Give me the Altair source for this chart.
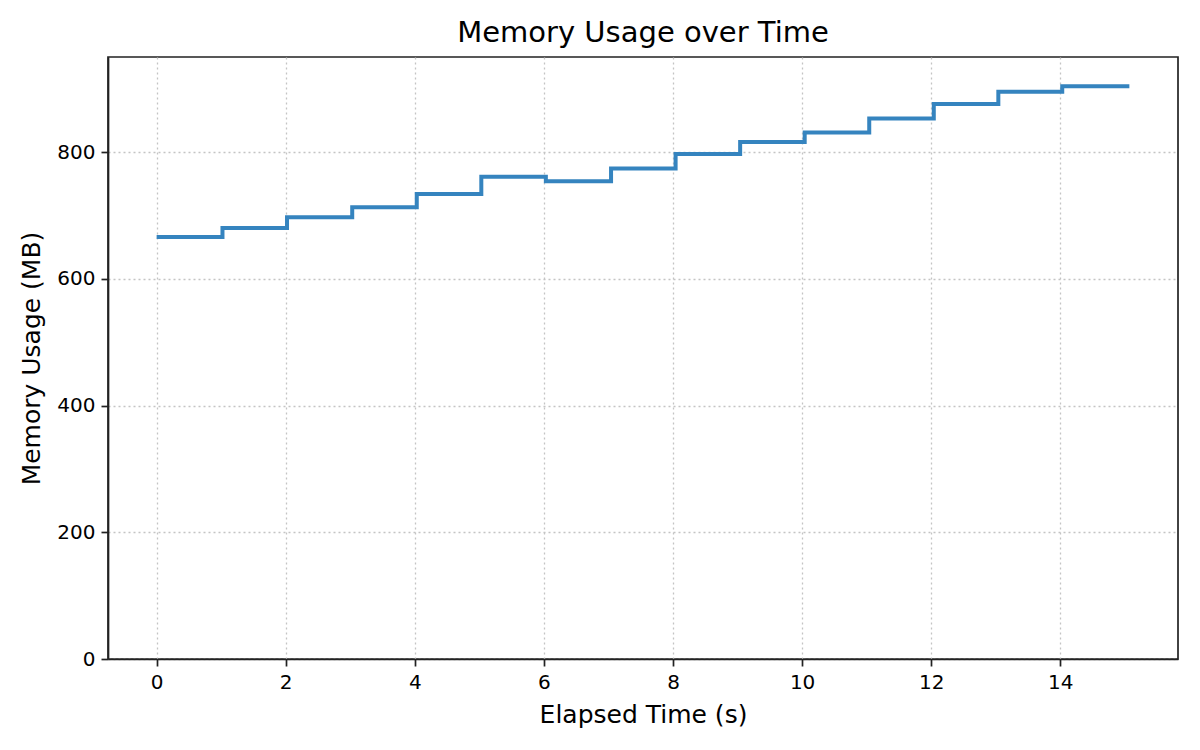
import altair as alt
import pandas as pd

elapsed_s = [0, 1.02, 2.02, 3.03, 4.03, 5.03, 6.03, 7.04, 8.04, 9.04, 10.04, 11.04, 12.04, 13.04, 14.03, 15.07]
memory_mb = [666, 680, 697, 713, 734, 761, 754, 774, 797, 816, 831, 853, 876, 895, 904, 904]
x_ticks = [0, 2, 4, 6, 8, 10, 12, 14]
y_ticks = [0, 200, 400, 600, 800]

df = pd.DataFrame({"t": elapsed_s, "mem": memory_mb})

FONT = "DejaVu Sans"

chart = (
    alt.Chart(df)
    .mark_line(interpolate="step-after", color="#3584bf", strokeWidth=4)
    .encode(
        x=alt.X(
            "t:Q",
            title="Elapsed Time (s)",
            scale=alt.Scale(domain=[-0.7535, 15.8235], nice=False, zero=False),
            axis=alt.Axis(values=x_ticks, format="d", titlePadding=10),
        ),
        y=alt.Y(
            "mem:Q",
            title="Memory Usage (MB)",
            scale=alt.Scale(domain=[0, 950], nice=False),
            axis=alt.Axis(values=y_ticks, format="d", titlePadding=12),
        ),
    )
    .properties(
        width=1070,
        height=602,
        title=alt.TitleParams("Memory Usage over Time", fontSize=29, font=FONT,
                              fontWeight="normal", color="black", offset=9),
        autosize=alt.AutoSizeParams(type="none"),
        padding={"left": 100, "top": 49, "right": 10, "bottom": 80},
    )
    .configure_view(stroke="#222222", strokeWidth=1.7)
    .configure_axis(
        labelFont=FONT,
        titleFont=FONT,
        labelFontSize=20,
        titleFontSize=25,
        titleFontWeight="normal",
        labelColor="black",
        titleColor="black",
        domainColor="#222222",
        domainWidth=1.7,
        tickColor="#222222",
        tickWidth=1.7,
        tickSize=7,
        labelPadding=6,
        grid=True,
        gridColor="#c4c4c4",
        gridWidth=1.3,
        gridDash=[2, 3],
    )
)

chart.save("out.html", embed_options={"renderer": "svg", "actions": False})
